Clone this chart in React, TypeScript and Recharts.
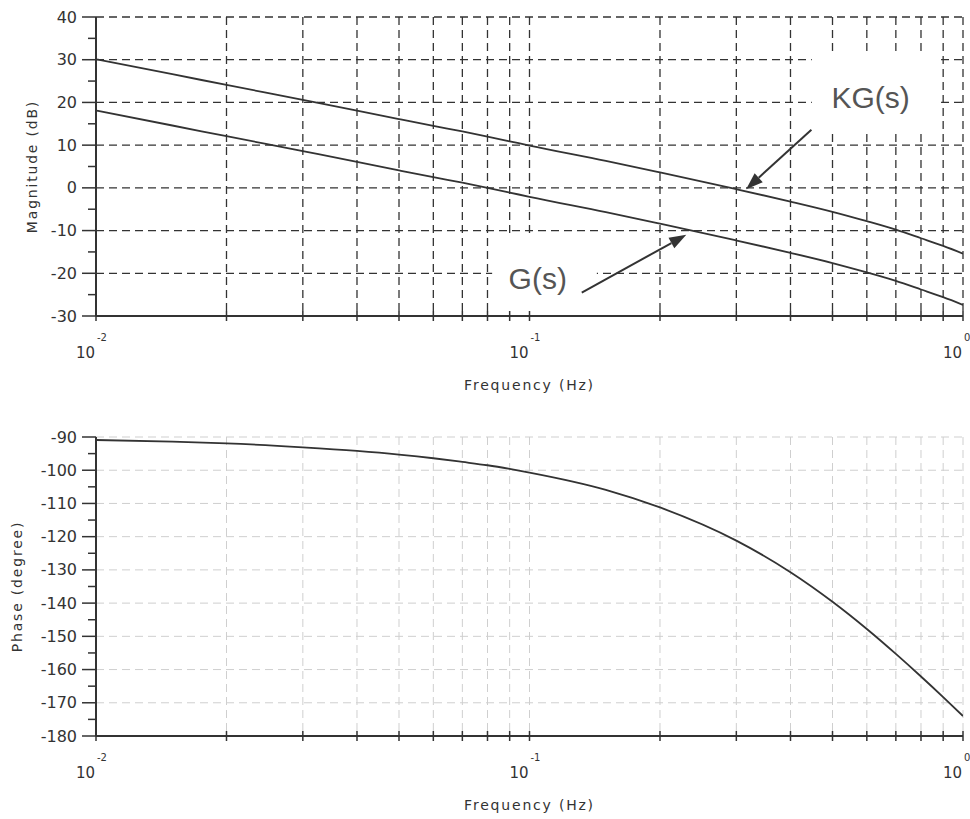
import { LineChart, Line, XAxis, YAxis, CartesianGrid, ReferenceArea, ReferenceLine, ReferenceDot } from "recharts";

// frequency points (Hz) and values
const freq = [0.01, 0.015, 0.02, 0.03, 0.04, 0.05, 0.06, 0.07, 0.08, 0.09, 0.1, 0.15, 0.2, 0.3, 0.4, 0.5, 0.6, 0.7, 0.8, 0.9, 1.0];
const kgDb = [30.1, 26.6, 24.1, 20.6, 18.1, 16.1, 14.5, 13.2, 12.0, 10.9, 9.9, 6.3, 3.6, -0.3, -3.2, -5.6, -7.8, -9.8, -11.8, -13.6, -15.4];
const gDb = [18.1, 14.6, 12.1, 8.6, 6.1, 4.1, 2.5, 1.2, 0.0, -1.1, -2.1, -5.7, -8.4, -12.3, -15.2, -17.6, -19.8, -21.8, -23.8, -25.6, -27.4];
const phaseDeg = [-90.9, -91.4, -91.9, -93.1, -94.2, -95.3, -96.4, -97.5, -98.5, -99.6, -100.7, -105.9, -111.2, -121.2, -130.7, -139.6, -147.8, -155.3, -162.1, -168.3, -174.0];

const decades = [0.01, 0.1, 1];
const gridFreqs = [0.02, 0.03, 0.04, 0.05, 0.06, 0.07, 0.08, 0.09, 0.1, 0.2, 0.3, 0.4, 0.5, 0.6, 0.7, 0.8, 0.9, 1];
const freqTicks = [0.01, ...gridFreqs];
const magTicks = [-30, -25, -20, -15, -10, -5, 0, 5, 10, 15, 20, 25, 30, 35, 40];
const magGrid = [-20, -10, 0, 10, 20, 30, 40];
const phaseTicks = [-180, -175, -170, -165, -160, -155, -150, -145, -140, -135, -130, -125, -120, -115, -110, -105, -100, -95, -90];
const phaseGrid = [-170, -160, -150, -140, -130, -120, -110, -100, -90];

// annotations, in data units (Hz, dB)
const kgArrow = [{ x: 0.447, y: 13.6 }, { x: 0.316, y: -0.3 }];
const gArrow = [{ x: 0.132, y: -24.5 }, { x: 0.23, y: -11 }];
const kgText = { x: 0.612, y: 21.2 };
const gText = { x: 0.1045, y: -21.3 };

const magData = freq.map((f, i) => ({ f, kg: kgDb[i], g: gDb[i] }));
const phaseData = freq.map((f, i) => ({ f, phase: phaseDeg[i] }));

const ink = "#333";
const font = "DejaVu Sans, sans-serif";

function FreqTick(props: any) {
  const { x, y, payload } = props;
  const v = payload.value;
  const isDecade = decades.some((d) => Math.abs(d - v) < 1e-9);
  const exp = Math.round(Math.log10(v));
  return (
    <g>
      <line x1={x} x2={x} y1={y - 5} y2={y + 5} stroke={ink} strokeWidth={1.5} />
      {isDecade && (
        <g fontFamily={font} fill={ink}>
          <text x={x - 1} y={y + 37} textAnchor="end" dominantBaseline="central" fontSize={15}>10</text>
          <text x={x + 1} y={y + 21} textAnchor="start" dominantBaseline="central" fontSize={10}>{exp}</text>
        </g>
      )}
    </g>
  );
}

function ValueTick(props: any) {
  const { x, y, payload } = props;
  const major = payload.value % 10 === 0;
  return (
    <g>
      <line x1={x - (major ? 14 : 8)} x2={x} y1={y} y2={y} stroke={ink} strokeWidth={1.5} />
      {major && (
        <text x={x - 19} y={y} textAnchor="end" dominantBaseline="central" fontSize={16} fontFamily={font} fill={ink}>
          {payload.value}
        </text>
      )}
    </g>
  );
}

function Arrow(props: any) {
  const { x1, y1, x2, y2 } = props;
  const a = Math.atan2(y2 - y1, x2 - x1);
  const len = 17;
  const half = 6;
  const bx = x2 - len * Math.cos(a);
  const by = y2 - len * Math.sin(a);
  const pts = [
    [x2, y2],
    [bx + half * Math.sin(a), by - half * Math.cos(a)],
    [bx - half * Math.sin(a), by + half * Math.cos(a)],
  ]
    .map((p) => p.join(","))
    .join(" ");
  return (
    <g>
      <line x1={x1} y1={y1} x2={bx} y2={by} stroke={ink} strokeWidth={2} />
      <polygon points={pts} fill={ink} />
    </g>
  );
}

function Note(text: string) {
  return (props: any) => (
    <text x={props.cx} y={props.cy} textAnchor="middle" dominantBaseline="central" fontSize={30} fontFamily="Liberation Sans, Arial, sans-serif" fill="#555">
      {text}
    </text>
  );
}

const axisLabelStyle = { fontFamily: font, fontSize: 14, letterSpacing: 1.8, fill: ink };

export default function App() {
  return (
    <div style={{ position: "absolute", left: 0, top: 0, width: 970, height: 819, background: "#fff" }}>
      <div style={{ position: "absolute", left: 0, top: 0 }}>
        <LineChart width={970} height={400} data={magData} margin={{ top: 17, right: 7, bottom: 0, left: 0 }}>
          <CartesianGrid
            horizontalValues={magGrid}
            verticalValues={gridFreqs}
            stroke={ink}
            strokeWidth={1.3}
            strokeDasharray="8 5"
          />
          <ReferenceArea x1={0.448} x2={0.89} y1={12.9} y2={31.9} fill="#fff" fillOpacity={1} stroke="none" />
          <ReferenceArea x1={0.082} x2={0.143} y1={-29.5} y2={-11.2} fill="#fff" fillOpacity={1} stroke="none" />
          <XAxis
            dataKey="f"
            type="number"
            scale="log"
            domain={[0.01, 1]}
            allowDataOverflow
            ticks={freqTicks}
            interval={0}
            tick={<FreqTick />}
            tickLine={false}
            tickSize={0}
            tickMargin={0}
            height={84}
            axisLine={{ stroke: ink, strokeWidth: 2 }}
            label={{ value: "Frequency (Hz)", position: "insideBottom", offset: 10, ...axisLabelStyle }}
          />
          <YAxis
            type="number"
            domain={[-30, 40]}
            ticks={magTicks}
            interval={0}
            tick={<ValueTick />}
            tickLine={false}
            tickSize={0}
            tickMargin={0}
            width={96}
            axisLine={{ stroke: ink, strokeWidth: 2 }}
            label={{ value: "Magnitude (dB)", angle: -90, position: "insideLeft", offset: 32, style: { textAnchor: "middle" }, ...axisLabelStyle }}
          />
          <Line dataKey="kg" type="monotone" stroke={ink} strokeWidth={1.8} dot={false} isAnimationActive={false} />
          <Line dataKey="g" type="monotone" stroke={ink} strokeWidth={1.8} dot={false} isAnimationActive={false} />
          <ReferenceLine segment={kgArrow} ifOverflow="visible" shape={Arrow} />
          <ReferenceLine segment={gArrow} ifOverflow="visible" shape={Arrow} />
          <ReferenceDot x={kgText.x} y={kgText.y} r={1} ifOverflow="visible" shape={Note("KG(s)")} />
          <ReferenceDot x={gText.x} y={gText.y} r={1} ifOverflow="visible" shape={Note("G(s)")} />
        </LineChart>
      </div>
      <div style={{ position: "absolute", left: 0, top: 420 }}>
        <LineChart width={970} height={399} data={phaseData} margin={{ top: 17, right: 7, bottom: 0, left: 0 }}>
          <CartesianGrid
            horizontalValues={phaseGrid}
            verticalValues={gridFreqs}
            stroke="#cfcfcf"
            strokeWidth={1}
            strokeDasharray="8 5"
          />
          <XAxis
            dataKey="f"
            type="number"
            scale="log"
            domain={[0.01, 1]}
            allowDataOverflow
            ticks={freqTicks}
            interval={0}
            tick={<FreqTick />}
            tickLine={false}
            tickSize={0}
            tickMargin={0}
            height={83}
            axisLine={{ stroke: ink, strokeWidth: 2 }}
            label={{ value: "Frequency (Hz)", position: "insideBottom", offset: 9, ...axisLabelStyle }}
          />
          <YAxis
            type="number"
            domain={[-180, -90]}
            ticks={phaseTicks}
            interval={0}
            tick={<ValueTick />}
            tickLine={false}
            tickSize={0}
            tickMargin={0}
            width={96}
            axisLine={{ stroke: ink, strokeWidth: 2 }}
            label={{ value: "Phase (degree)", angle: -90, position: "insideLeft", offset: 17, style: { textAnchor: "middle" }, ...axisLabelStyle }}
          />
          <Line dataKey="phase" type="monotone" stroke={ink} strokeWidth={1.8} dot={false} isAnimationActive={false} />
        </LineChart>
      </div>
    </div>
  );
}
